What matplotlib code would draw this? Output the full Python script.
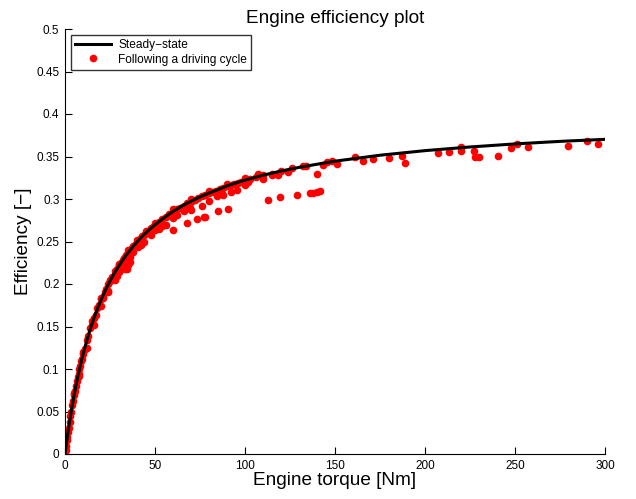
import matplotlib
matplotlib.use("Agg")
import matplotlib.pyplot as plt

plt.rcParams['font.family'] = ['Liberation Sans', 'DejaVu Sans']

# Steady-state curve
torque_ss = [0, 0.5, 1, 1.5, 2, 3, 4, 5, 6, 7, 8, 9, 10, 12, 14, 16, 18, 20, 22, 24, 26, 28, 30,
             32, 34, 36, 38, 40, 42, 44, 46, 48, 50, 55, 60, 65, 70, 75, 80, 85, 90, 95, 100,
             110, 120, 130, 140, 150, 175, 200, 225, 250, 275, 300]
eff_ss = [0, 0.0081, 0.0159, 0.0234, 0.0306, 0.0442, 0.0568, 0.0686, 0.0796, 0.0899, 0.0995,
          0.1086, 0.1171, 0.1328, 0.1468, 0.1594, 0.1708, 0.1812, 0.1907, 0.1994, 0.2074,
          0.2148, 0.2216, 0.2279, 0.2339, 0.2394, 0.2446, 0.2494, 0.2540, 0.2583, 0.2623,
          0.2661, 0.2697, 0.2779, 0.2853, 0.2918, 0.2974, 0.3025, 0.3070, 0.3111, 0.3154,
          0.3190, 0.3222, 0.3280, 0.3329, 0.3372, 0.3409, 0.3445, 0.3515, 0.3569, 0.3612,
          0.3648, 0.3678, 0.3702]

# Driving-cycle operating points
torque_cycle = [0, 0.3, 0.6, 0.9, 1.2, 1.6, 2.0, 2.5, 3.0, 3.5, 4.0, 4.5, 5.0, 5.5, 6.0, 6.5,
                7.0, 7.5, 8.0, 8.5, 9, 9.5, 10, 11, 12, 13, 14, 15, 16, 17, 18, 19, 20, 21,
                22, 23, 24, 25, 26, 27, 28, 29, 30, 31, 32, 33, 34, 35, 36, 37, 38, 39, 40,
                41, 42, 43, 44, 45, 46, 47, 48, 49, 50, 52, 54, 56, 58, 60, 62, 64, 66, 68,
                70, 72, 74, 76, 78, 80, 82, 84, 86, 88, 90, 92, 94, 96, 98, 100, 103, 106,
                110, 115, 120, 126, 134,
                28, 32, 38, 44, 52, 56, 70, 76, 80, 88, 92, 100,
                5, 10, 15, 20, 25, 30, 35, 40, 45, 50, 60, 70, 80, 90, 100,
                8, 12, 16, 20, 24, 30, 36, 42, 48, 54, 60, 66,
                21.3, 24, 28.7, 33.3, 35.2, 34.3, 36.1, 40.7, 50, 59.8, 62, 67.9, 69.4, 73.5,
                77.4, 77.8, 85.2, 90.7, 84.2, 87, 95.4, 101.9, 107.4, 110.2, 114.8, 118.5,
                112.9, 119.4, 128.7, 136, 138, 140, 141.7, 139.8, 124, 132.4, 143.5, 145.4,
                148.1, 150.9, 161, 165.7, 171.3, 180, 187, 188.9, 207, 213.3, 220, 220, 227.2,
                227.8, 230, 240.7, 248, 251, 257.4, 279.6, 290.2, 296.3]
eff_cycle = [0, 0.005, 0.010, 0.016, 0.020, 0.026, 0.031, 0.038, 0.045, 0.050, 0.058, 0.062,
             0.070, 0.074, 0.080, 0.086, 0.091, 0.094, 0.100, 0.104, 0.109, 0.112, 0.118,
             0.124, 0.134, 0.139, 0.148, 0.152, 0.160, 0.164, 0.172, 0.175, 0.182, 0.185,
             0.191, 0.194, 0.200, 0.203, 0.208, 0.210, 0.215, 0.218, 0.222, 0.225, 0.228,
             0.231, 0.234, 0.236, 0.240, 0.242, 0.245, 0.246, 0.250, 0.251, 0.254, 0.256,
             0.258, 0.260, 0.262, 0.264, 0.266, 0.267, 0.270, 0.273, 0.276, 0.279, 0.282,
             0.285, 0.288, 0.290, 0.292, 0.295, 0.297, 0.299, 0.301, 0.303, 0.305, 0.307,
             0.308, 0.310, 0.312, 0.313, 0.315, 0.316, 0.318, 0.319, 0.320, 0.322, 0.324,
             0.326, 0.328, 0.330, 0.333, 0.336, 0.339,
             0.205, 0.219, 0.238, 0.250, 0.265, 0.270, 0.287, 0.292, 0.298, 0.305, 0.308, 0.316,
             0.072, 0.120, 0.156, 0.184, 0.205, 0.224, 0.240, 0.252, 0.262, 0.272, 0.288,
             0.300, 0.310, 0.318, 0.325,
             0.092, 0.125, 0.152, 0.174, 0.192, 0.214, 0.232, 0.246, 0.258, 0.268, 0.278, 0.286,
             0.183, 0.191, 0.209, 0.218, 0.222, 0.218, 0.226, 0.244, 0.264, 0.2635, 0.281,
             0.272, 0.290, 0.2765, 0.279, 0.279, 0.286, 0.288, 0.303, 0.306, 0.311, 0.3204,
             0.329, 0.324, 0.328, 0.328, 0.2988, 0.302, 0.3047, 0.3075, 0.3075, 0.308, 0.309,
             0.330, 0.332, 0.339, 0.340, 0.343, 0.345, 0.341, 0.349, 0.345, 0.347, 0.3486,
             0.3506, 0.3427, 0.3537, 0.355, 0.3616, 0.3565, 0.3569, 0.349, 0.349, 0.3506,
             0.3596, 0.3647, 0.3608, 0.3627, 0.3686, 0.3647]

x_ticks = [0, 50, 100, 150, 200, 250, 300]
y_ticks = [0, 0.05, 0.1, 0.15, 0.2, 0.25, 0.3, 0.35, 0.4, 0.45, 0.5]
y_ticklabels = ['0', '0.05', '0.1', '0.15', '0.2', '0.25', '0.3', '0.35', '0.4', '0.45', '0.5']

fig = plt.figure(figsize=(6.36, 4.99), dpi=100)
ax = fig.add_axes([65/636, 45/499, 540/636, 425/499])

ax.plot(torque_cycle, eff_cycle, 'o', color='red', markersize=5.5, markeredgewidth=0,
        label='Following a driving cycle', zorder=2)
ax.plot(torque_ss, eff_ss, '-', color='black', linewidth=2.2, label='Steady\u2212state', zorder=3)

ax.set_xlim(0, 300)
ax.set_ylim(0, 0.5)
ax.set_xticks(x_ticks)
ax.set_yticks(y_ticks)
ax.set_yticklabels(y_ticklabels)
ax.tick_params(direction='in', length=5, width=0.8, labelsize=8.5, pad=4)
ax.spines['top'].set_visible(False)
ax.spines['right'].set_visible(False)

ax.set_title('Engine efficiency plot', fontsize=13.7, pad=4.5)
ax.set_xlabel('Engine torque [Nm]', fontsize=13.7, labelpad=0)
ax.set_ylabel('Efficiency [\u2212]', fontsize=13.7, labelpad=3)

handles, labels = ax.get_legend_handles_labels()
leg = ax.legend([handles[1], handles[0]], [labels[1], labels[0]], loc='upper left',
                fontsize=8.6, frameon=True, fancybox=False, borderaxespad=0.5,
                handlelength=3, borderpad=0.35, labelspacing=0.2, handletextpad=0.6)
leg.get_frame().set_edgecolor('black')
leg.get_frame().set_linewidth(1.0)

fig.savefig('out.png', dpi=100)
